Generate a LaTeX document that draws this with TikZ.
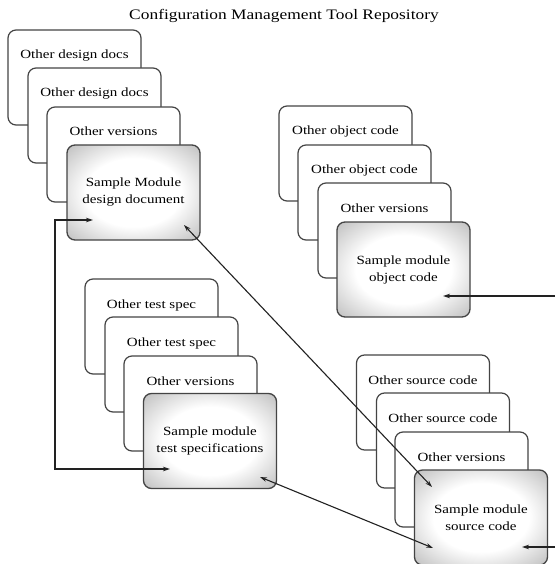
\documentclass[tikz,border=0pt]{standalone}
\usepackage{fontspec}
\setmainfont[FakeStretch=1.2]{Liberation Serif}
\usetikzlibrary{arrows.meta}
\pgfdeclareradialshading{sampshade}{\pgfpoint{0bp}{0bp}}{color(0bp)=(white); color(18bp)=(white); color(50bp)=(black!46); color(71bp)=(black!72)}
\definecolor{boxline}{HTML}{444444}
\definecolor{conline}{HTML}{222222}
\newcommand{\boxfont}{\fontsize{12.5}{17}\selectfont}
\begin{document}
\begin{tikzpicture}[x=1pt,y=-1pt,
  otherbox/.style={draw=boxline, line width=1.2pt, rounded corners=8pt, fill=white,
    minimum width=133pt, inner sep=0pt, text height=29pt, text depth=66pt, font=\boxfont},
  samplebox/.style={draw=boxline, line width=1.3pt, rounded corners=8pt, shading=sampshade,
    minimum width=133pt, minimum height=95pt, inner sep=0pt, align=center, font=\boxfont},
  conn/.style={draw=conline, line width=1.1pt, {Stealth[length=7pt,width=4.5pt]}-{Stealth[length=7pt,width=4.5pt]}},
  conn1/.style={draw=conline, line width=1.1pt, -{Stealth[length=7pt,width=4.5pt]}}]
\useasboundingbox (0,0) rectangle (555,564);
\fill[white] (0,0) rectangle (555,564);

\node[font=\fontsize{14.5}{16}\selectfont] (title) at (284,16) {Configuration Management Tool Repository};

% top-left stack
\node[otherbox] (d1) at (74.5,77.5) {Other design docs};
\node[otherbox] (d2) at (94.5,115.5) {Other design docs};
\node[otherbox] (d3) at (113.5,154.5) {Other versions};
\node[samplebox] (ds) at (133.5,192.5) {Sample Module\\design document};

% top-right stack
\node[otherbox] (o1) at (345.5,153.5) {Other object code};
\node[otherbox] (o2) at (364.5,192.5) {Other object code};
\node[otherbox] (o3) at (384.5,230.5) {Other versions};
\node[samplebox] (os) at (403.5,269.5) {Sample module\\object code};

% bottom-left stack
\node[otherbox] (t1) at (151.5,326.5) {Other test spec};
\node[otherbox] (t2) at (171.5,364.5) {Other test spec};
\node[otherbox] (t3) at (190.5,403.5) {Other versions};
\node[samplebox] (ts) at (210,441) {Sample module\\test specifications};

% bottom-right stack
\node[otherbox] (s1) at (423,402.5) {Other source code};
\node[otherbox] (s2) at (443,440.5) {Other source code};
\node[otherbox] (s3) at (461.5,479.5) {Other versions};
\node[samplebox] (ss) at (481,517.5) {Sample module\\source code};

% connector end points
\coordinate (dsL) at (93,220);
\coordinate (bend) at (55,220);
\coordinate (tsL) at (170,469);
\coordinate (dsR) at (184,225);
\coordinate (ssA) at (432,487);
\coordinate (tsR) at (260,477);
\coordinate (ssB) at (433,548);
\coordinate (osIn) at (443,296);
\coordinate (osEdge) at (555,296);
\coordinate (ssIn) at (522,547);
\coordinate (ssEdge) at (555,547);

\draw[conn] (dsL) -- (bend) |- (tsL);
\draw[conn] (dsR) -- (ssA);
\draw[conn] (tsR) -- (ssB);
\draw[conn1] (osEdge) -- (osIn);
\draw[conn1] (ssEdge) -- (ssIn);
\end{tikzpicture}
\end{document}
